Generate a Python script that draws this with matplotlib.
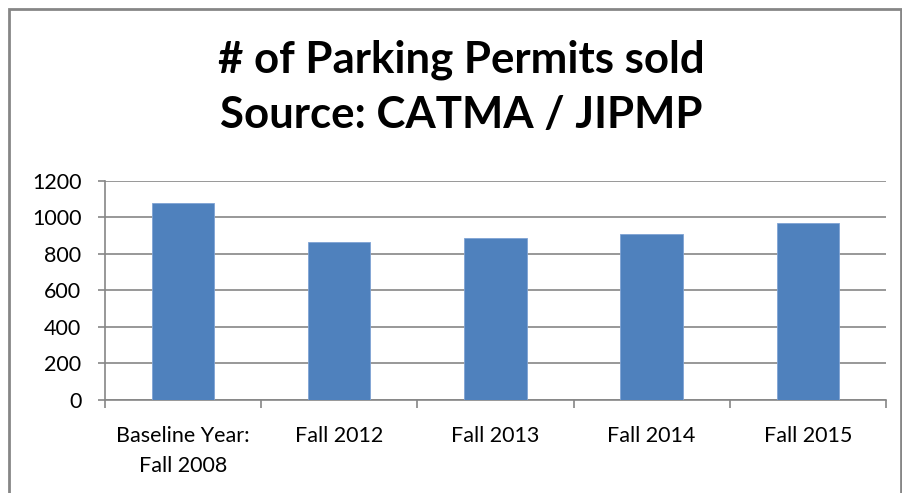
import matplotlib.pyplot as plt
from matplotlib.patches import Rectangle

categories = ["Baseline Year:\nFall 2008", "Fall 2012", "Fall 2013", "Fall 2014", "Fall 2015"]
permits = [1080, 862, 885, 907, 970]
yticks = [0, 200, 400, 600, 800, 1000, 1200]

plt.rcParams['font.family'] = ['Lato', 'DejaVu Sans']
grey = '#868686'

fig = plt.figure(figsize=(9.03, 4.93), dpi=100)
ax = fig.add_axes([0.1163, 0.1886, 0.8647, 0.4449])

x = range(len(categories))
ax.bar(x, permits, width=0.4, color='#4F81BD', edgecolor='#7FA3D4', linewidth=0.6, zorder=3)

ax.set_xlim(-0.5, len(categories) - 0.5)
ax.set_ylim(0, 1200)
ax.set_yticks(yticks)
ax.set_xticks(list(x))
ax.set_xticklabels(categories, linespacing=1.6)
ax.set_xticks([i - 0.5 for i in range(len(categories) + 1)], minor=True)
ax.tick_params(axis='x', which='major', length=0, pad=19, labelsize=15.5)
ax.tick_params(axis='x', which='minor', length=6, color=grey, width=1.2)
ax.tick_params(axis='y', length=5, color=grey, width=1.2, labelsize=15.5, pad=12)
ax.grid(axis='y', color=grey, linewidth=1.2, zorder=0)
for s in ['top', 'right']:
    ax.spines[s].set_visible(False)
for s in ['left', 'bottom']:
    ax.spines[s].set_color(grey)
    ax.spines[s].set_linewidth(1.2)

fig.text(0.511, 0.823, "# of Parking Permits sold\nSource: CATMA / JIPMP",
         ha='center', va='center', fontsize=31.5, fontweight='bold', linespacing=1.45)

# outer chart border
fig.patches.append(Rectangle((9 / 903, -0.1), (901 - 9) / 903, 1.1 - 9.5 / 493,
                             transform=fig.transFigure, fill=False,
                             edgecolor=grey, linewidth=2))

fig.savefig("out.png", dpi=100)
